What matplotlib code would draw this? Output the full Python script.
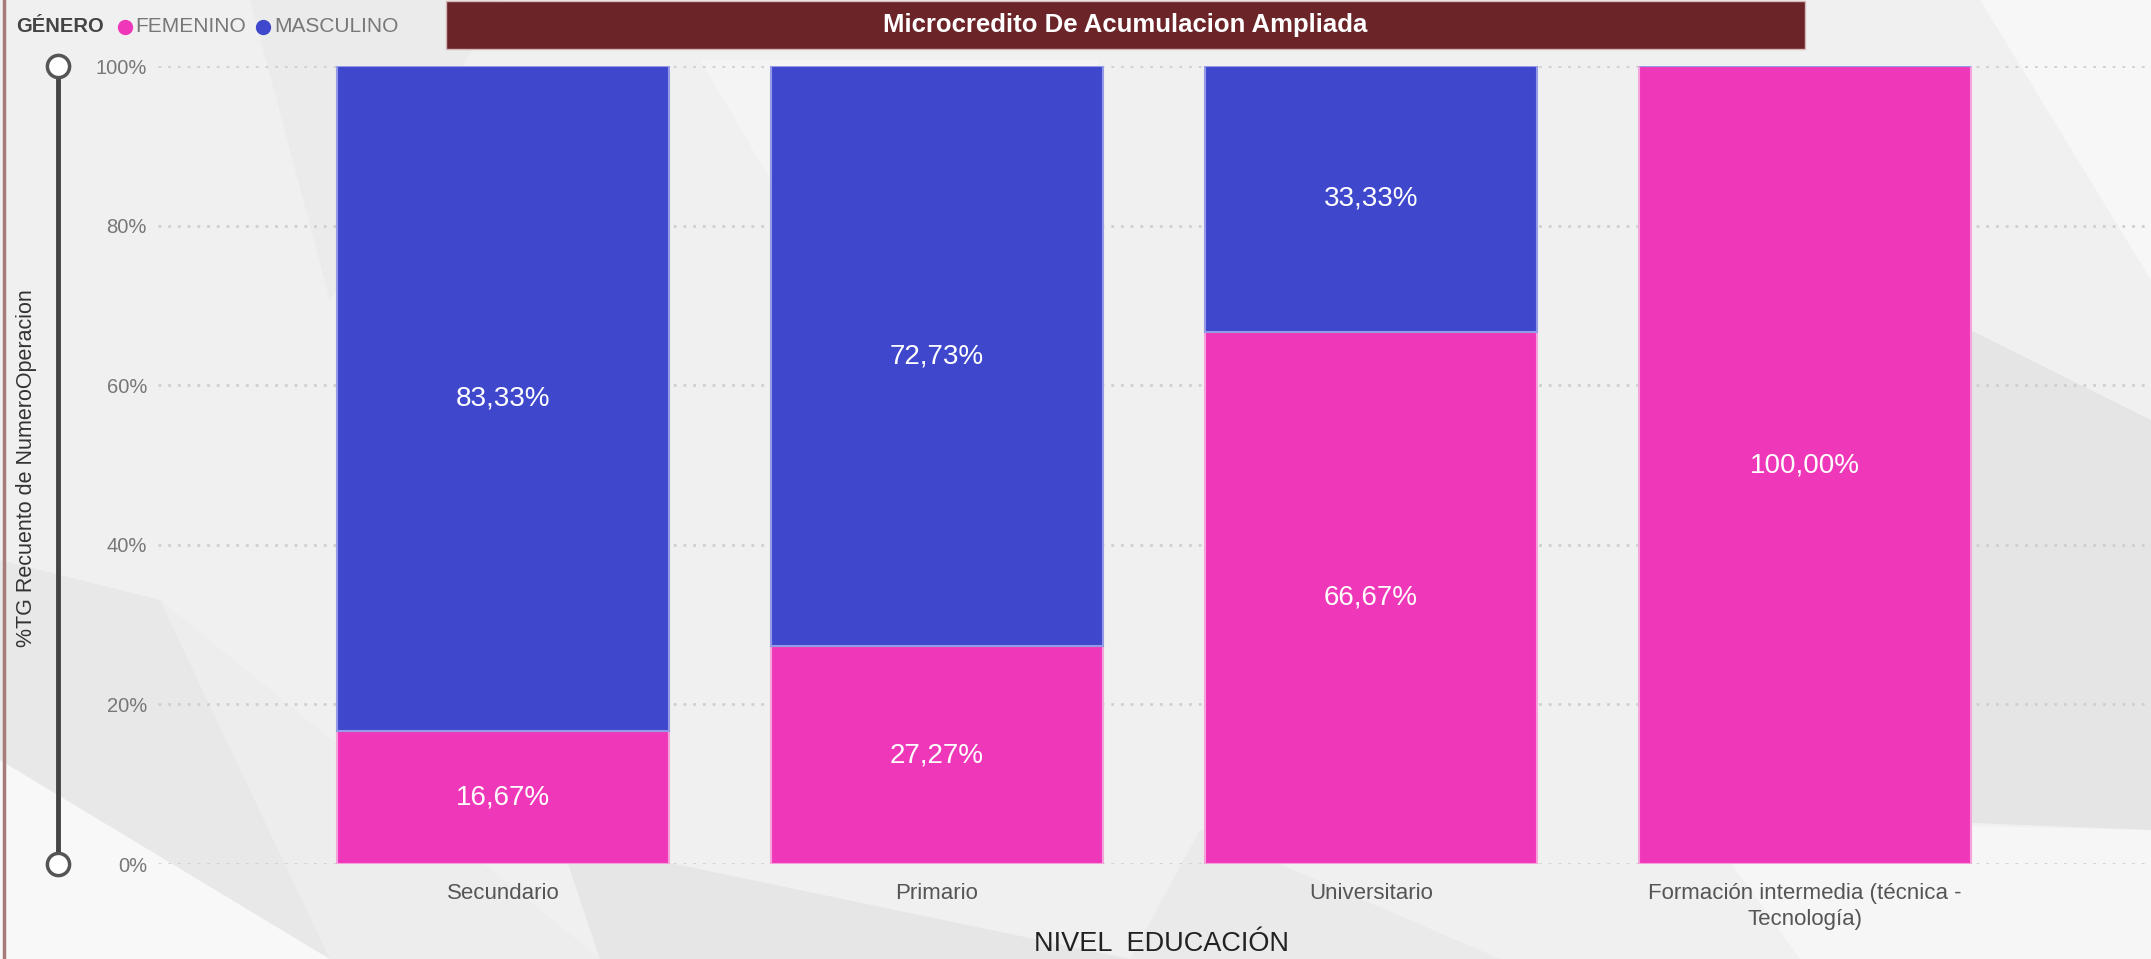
import matplotlib
matplotlib.use('Agg')
from matplotlib import pyplot
from matplotlib.patches import Polygon, Rectangle
import numpy as np

pyplot.rcParams['font.family'] = ['Liberation Sans', 'DejaVu Sans']

categories = ['Secundario', 'Primario', 'Universitario',
              'Formación intermedia (técnica -\nTecnología)']
femenino = [16.67, 27.27, 66.67, 100.0]
masculino = [83.33, 72.73, 33.33, 0.0]
yticks = [0, 20, 40, 60, 80, 100]

pink = '#EF38B9'
blue = '#3F48CC'
W, H = 2151, 959


def pct(v):
    return f"{v:.2f}".replace('.', ',') + '%'


fig = pyplot.figure(figsize=(W / 100, H / 100), dpi=100, facecolor='#F0F0F0')

# decoration layer in pixel coordinates (y down)
bg = fig.add_axes([0, 0, 1, 1], zorder=0)
bg.set_xlim(0, W)
bg.set_ylim(H, 0)
bg.axis('off')
shapes = [
    ([(0, 760), (330, 959), (0, 959)], '#F8F8F8'),
    ([(0, 560), (160, 600), (330, 959), (0, 760)], '#E8E8E8'),
    ([(160, 600), (600, 959), (330, 959)], '#EDEDED'),
    ([(560, 840), (1130, 959), (600, 959)], '#E6E6E6'),
    ([(1130, 959), (1200, 830), (1500, 959)], '#EAEAEA'),
    ([(1810, 250), (2151, 420), (2151, 830), (1900, 820)], '#E5E5E5'),
    ([(1980, 0), (2151, 0), (2151, 280)], '#F7F7F7'),
    ([(1700, 820), (2151, 830), (2151, 959), (1800, 959)], '#F6F6F6'),
    ([(700, 60), (1100, 60), (900, 400)], '#F4F4F4'),
    ([(250, 0), (500, 0), (330, 300)], '#EBEBEB'),
]
for pts, c in shapes:
    bg.add_patch(Polygon(pts, closed=True, facecolor=c, edgecolor='none'))

# left border
bg.plot([4, 4], [0, H], color='#A87B7B', lw=2.5)

# title bar
bg.add_patch(Rectangle((446, 1), 1359, 48, facecolor='#6B2428', edgecolor='#D4B8B8', lw=1))
bg.text(1125, 25, 'Microcredito De Acumulacion Ampliada', color='white',
        fontsize=18.5, fontweight='bold', ha='center', va='center')

# legend
bg.text(16, 27, 'GÉNERO', color='#444444', fontsize=14.5, fontweight='bold', va='center')
bg.plot([125], [27], 'o', color=pink, markersize=10)
bg.text(135, 27, 'FEMENINO', color='#777777', fontsize=15, va='center')
bg.plot([263], [27], 'o', color=blue, markersize=10)
bg.text(274, 27, 'MASCULINO', color='#777777', fontsize=15, va='center')

# slider
bg.plot([58, 58], [66, 864], color='#444444', lw=3.5, solid_capstyle='butt')
bg.plot([58, 58], [66, 864], 'o', markersize=16, markerfacecolor='white',
        markeredgecolor='#555555', markeredgewidth=2.5)

# y label
bg.text(27, 468, '%TG Recuento de NumeroOperacion', rotation=90, color='#333333',
        fontsize=15.5, ha='center', va='center')

# x label
bg.text(1162, 944, 'NIVEL  EDUCACIÓN', color='#222222', fontsize=19.5,
        ha='center', va='center')

# main chart
ax = fig.add_axes([158 / W, 1 - 864 / H, (W - 158) / W, (864 - 66) / H], zorder=1)
ax.set_facecolor('none')
x = np.arange(len(categories))
bw = 0.765
ax.bar(x, femenino, bw, color=pink, edgecolor='#F6A3DC', linewidth=1.5, zorder=3)
ax.bar(x, masculino, bw, bottom=femenino, color=blue, edgecolor='#959AE6',
       linewidth=1.5, zorder=3)

for i in range(len(categories)):
    if femenino[i] > 0:
        ax.text(x[i], femenino[i] / 2, pct(femenino[i]), color='white', fontsize=20,
                ha='center', va='center', zorder=4)
    if masculino[i] > 0:
        ax.text(x[i], femenino[i] + masculino[i] / 2, pct(masculino[i]), color='white',
                fontsize=20, ha='center', va='center', zorder=4)

ax.set_xlim(-0.795, 3.797)
ax.set_ylim(0, 100)
ax.set_yticks(yticks)
ax.set_yticklabels([f"{t}%" for t in yticks])
ax.set_xticks(x)
ax.set_xticklabels(categories, linespacing=1.3)
ax.tick_params(axis='y', length=0, pad=8, labelsize=14.5, labelcolor='#777777')
ax.tick_params(axis='x', length=0, pad=14, labelsize=16, labelcolor='#555555')
ax.grid(axis='y', color='#CFCFCF', linestyle=(0, (1, 2.5)), linewidth=2, zorder=1)
for s in ax.spines.values():
    s.set_visible(False)

pyplot.savefig('out.png', dpi=100, facecolor=fig.get_facecolor())
